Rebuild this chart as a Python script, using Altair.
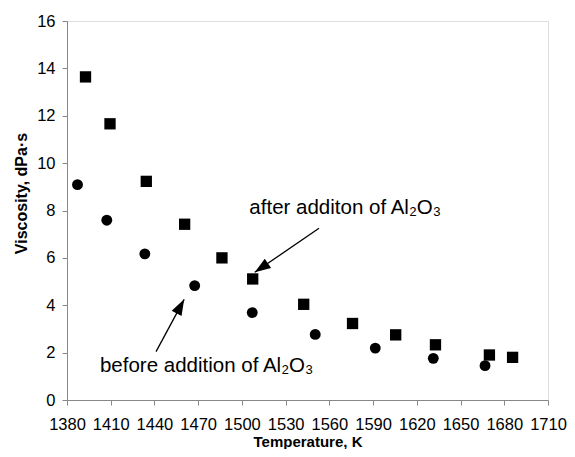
import math
import altair as alt
import pandas as pd

# ---- data ----
after_T = [1392.7, 1409.5, 1434.4, 1460.7, 1486.3, 1507.4, 1542.4, 1575.9, 1605.5, 1632.8, 1669.8, 1685.7]
after_V = [13.64, 11.66, 9.23, 7.42, 6.00, 5.11, 4.04, 3.23, 2.75, 2.33, 1.90, 1.80]
before_T = [1387.2, 1407.3, 1433.4, 1467.6, 1507.1, 1550.3, 1591.5, 1631.3, 1666.8]
before_V = [9.09, 7.59, 6.17, 4.83, 3.69, 2.77, 2.19, 1.76, 1.45]

x_ticks = [1380, 1410, 1440, 1470, 1500, 1530, 1560, 1590, 1620, 1650, 1680, 1710]
y_ticks = [0, 2, 4, 6, 8, 10, 12, 14, 16]

label_text = ["after additon of Al\u2082O\u2083", "before addition of Al\u2082O\u2083"]
label_T = [1505.1, 1402.6]
label_V = [7.85, 1.17]

arrow_T = [1552.9, 1441.1]
arrow_V = [7.25, 2.04]
arrow_T2 = [1508.8, 1460.4]
arrow_V2 = [5.39, 4.25]

X_DOM = [1380, 1710]
Y_DOM = [0, 16]
W, H = 481, 379
FONT = "Liberation Sans"

after_df = pd.DataFrame({"T": after_T, "V": after_V})
before_df = pd.DataFrame({"T": before_T, "V": before_V})
labels_df = pd.DataFrame({"T": label_T, "V": label_V, "label": label_text})

px_T = W / (X_DOM[1] - X_DOM[0])
px_V = H / (Y_DOM[1] - Y_DOM[0])
angles = []
for t1, v1, t2, v2 in zip(arrow_T, arrow_V, arrow_T2, arrow_V2):
    dx = (t2 - t1) * px_T
    dy = -(v2 - v1) * px_V
    angles.append(math.degrees(math.atan2(dx, -dy)) % 360)
arrows_df = pd.DataFrame({"T": arrow_T, "V": arrow_V, "T2": arrow_T2, "V2": arrow_V2, "ang": angles})

xs = alt.Scale(domain=X_DOM, nice=False, zero=False)
ys = alt.Scale(domain=Y_DOM, nice=False)

x_axis = alt.Axis(values=x_ticks, format="d", title="Temperature, K", grid=False, tickSize=5,
                  labelPadding=11, labelFontSize=16.5, titleFontSize=15,
                  titleFontWeight="bold", titleY=46, titleBaseline="alphabetic",
                  labelFlush=False)
y_axis = alt.Axis(values=y_ticks, format="d", title="Viscosity, dPa\u00b7s", grid=False, tickSize=5,
                  labelPadding=7, labelFontSize=16.5, titleFontSize=16,
                  titleFontWeight="bold", titleX=-46, titleY=172,
                  titleBaseline="middle", titleAlign="center", titleAngle=270,
                  labelFlush=False)

base_x = alt.X("T:Q", scale=xs, axis=x_axis)
base_y = alt.Y("V:Q", scale=ys, axis=y_axis)

sq = alt.Chart(after_df).mark_point(shape="square", filled=True, color="black", size=128, opacity=1).encode(
    x=base_x, y=base_y)
ci = alt.Chart(before_df).mark_point(shape="circle", filled=True, color="black", size=118, opacity=1).encode(
    x=alt.X("T:Q", scale=xs), y=alt.Y("V:Q", scale=ys))

lines = alt.Chart(arrows_df).mark_rule(color="black", strokeWidth=1.3).encode(
    x=alt.X("T:Q", scale=xs), y=alt.Y("V:Q", scale=ys), x2="T2:Q", y2="V2:Q")
heads = alt.Chart(arrows_df).mark_point(shape="M0,0L0.7,2L-0.7,2Z", filled=True, color="black",
                                        size=256, opacity=1, strokeWidth=0).encode(
    x=alt.X("T2:Q", scale=xs), y=alt.Y("V2:Q", scale=ys), angle=alt.Angle("ang:Q", scale=None))

texts = alt.Chart(labels_df).mark_text(align="left", baseline="alphabetic", fontSize=20.5,
                                       font=FONT, color="black").encode(
    x=alt.X("T:Q", scale=xs), y=alt.Y("V:Q", scale=ys), text="label:N")

chart = alt.layer(sq, ci, lines, heads, texts).properties(
    width=W, height=H,
    autosize=alt.AutoSizeParams(type="none"),
    padding={"left": 59, "top": 13, "right": 19, "bottom": 49},
).configure_view(
    stroke="black", strokeWidth=1.5
).configure_axis(
    domainColor="black", domainWidth=1.5, tickColor="black", tickWidth=1.3,
    labelColor="black", titleColor="black", labelFont=FONT, titleFont=FONT
).configure(background="white")

chart.save("out.html", embed_options={"renderer": "svg", "actions": False})
